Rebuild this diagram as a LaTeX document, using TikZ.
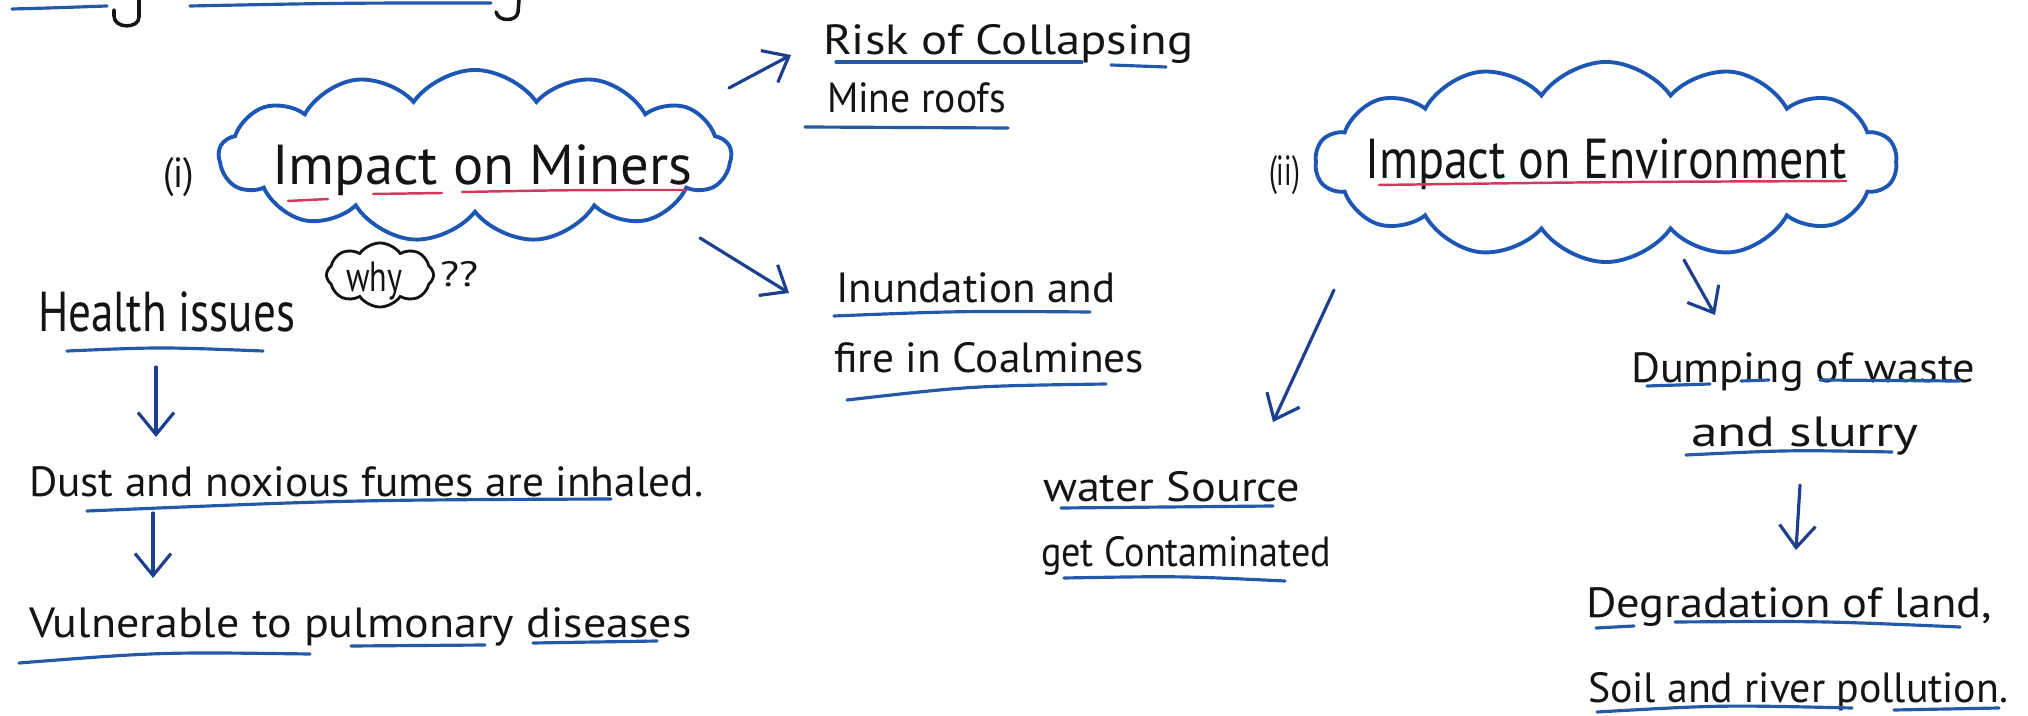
\documentclass[tikz,border=0pt]{standalone}
\usepackage{fontspec}
\setmainfont{PT Sans}
\usetikzlibrary{shapes.symbols,arrows.meta,calc}
\definecolor{ink}{HTML}{141414}
\definecolor{pen}{HTML}{2458A8}
\definecolor{arrc}{HTML}{1C3F8F}
\definecolor{cloudc}{HTML}{1E57B3}
\definecolor{redpen}{HTML}{D2395A}
\newcommand\fitw[2]{\resizebox{#1}{\height}{#2}}
\begin{document}
\begin{tikzpicture}[x=0.01cm,y=-0.01cm,
  txt/.style={anchor=base west,inner sep=0pt,outer sep=0pt,text=ink},
  big/.style={txt,font=\fontsize{16}{18}\selectfont},
  mid/.style={txt,font=\fontsize{12}{14}\selectfont},
  uline/.style={draw=pen,line width=0.9pt,line cap=round},
  rline/.style={draw=redpen,line width=0.7pt,line cap=round},
  cloudbox/.style={cloud,draw=cloudc,line width=1.1pt,cloud puff arc=110,inner sep=0pt},
  arr/.style={draw=arrc,line width=0.9pt,line cap=round,-{Straight Barb[length=2.2mm,width=3.6mm,line width=0.9pt]}},
]
\useasboundingbox[fill=white] (0,0) rectangle (2028,716);

% partial heading strokes at the top
\draw[uline] (12,9) .. controls (50,8) .. (107,6);
\draw[ink,line width=1pt,line cap=round] (139,0) -- (139,17) .. controls (139,29) and (114,29) .. (114,16) -- (114,10);
\draw[uline] (190,6) .. controls (340,3) .. (491,3);
\draw[ink,line width=1pt,line cap=round] (519,0) -- (518,12) .. controls (517,22) and (498,22) .. (496,12);

% clouds
\node[cloudbox,cloud puffs=13,minimum width=5.12cm,minimum height=1.72cm] (miners) at (475,156) {};
\node[cloudbox,cloud puffs=14,minimum width=5.81cm,minimum height=2.0cm] (env) at (1606,162) {};
\node[cloud,draw=ink,line width=0.8pt,cloud puffs=8,cloud puff arc=110,inner sep=0pt,minimum width=1.07cm,minimum height=0.64cm] (why) at (380,275) {};

% texts
\node[big] (tminers) at (272,185) {\fitw{4.20cm}{Impact on Miners}};
\node[mid] (n1) at (163,188) {\fitw{0.31cm}{(i)}};
\node[big] (tenv) at (1365,179) {\fitw{4.81cm}{Impact on Environment}};
\node[mid] (n2) at (1269,186) {\fitw{0.31cm}{(ii)}};
\node[txt,font=\fontsize{12}{13}\selectfont] (twhy) at (346,292) {\fitw{0.56cm}{why}};
\node[txt,font=\fontsize{10}{12}\selectfont] (qq) at (440,287) {\fitw{0.38cm}{??}};
\node[big] (health) at (38,332) {\fitw{2.57cm}{Health issues}};
\node[mid] (dust) at (29,497) {\fitw{6.74cm}{Dust and noxious fumes are inhaled.}};
\node[mid] (vuln) at (29,638) {\fitw{6.62cm}{Vulnerable to pulmonary diseases}};
\node[mid] (risk) at (823,55) {\fitw{3.70cm}{Risk of Collapsing}};
\node[mid] (roofs) at (827,113) {\fitw{1.79cm}{Mine roofs}};
\node[mid] (inund) at (836,303) {\fitw{2.79cm}{Inundation and}};
\node[mid] (fire) at (834,373) {\fitw{3.10cm}{fire in Coalmines}};
\node[mid] (water) at (1043,502) {\fitw{2.57cm}{water Source}};
\node[mid] (contam) at (1041,567) {\fitw{2.90cm}{get Contaminated}};
\node[mid] (dump) at (1631,383) {\fitw{3.44cm}{Dumping of waste}};
\node[mid] (slurry) at (1691,447) {\fitw{2.27cm}{and slurry}};
\node[mid] (degr) at (1586,618) {\fitw{4.06cm}{Degradation of land,}};
\node[mid] (soil) at (1588,702) {\fitw{4.20cm}{Soil and river pollution.}};

% red underlines
\draw[rline] (288,201) -- (328,199);
\draw[rline] (373,194) -- (442,193);
\draw[rline] (462,192) .. controls (570,190) .. (685,190);
\draw[rline] (1379,185) .. controls (1600,182) .. (1846,181);

% blue underlines
\draw[uline] (67,351) .. controls (160,347) .. (263,351);
\draw[uline] (87,511) .. controls (350,500) .. (611,499);
\draw[uline] (19,663) .. controls (160,652) .. (310,654);
\draw[uline] (351,646) -- (485,645);
\draw[uline] (533,643) -- (657,641);
\draw[uline] (836,62) -- (1082,62);
\draw[uline] (1111,65) -- (1166,67);
\draw[uline] (805,127) -- (1008,128);
\draw[uline] (834,316) .. controls (960,311) .. (1090,312);
\draw[uline] (847,400) .. controls (970,386) .. (1106,384);
\draw[uline] (1061,508) -- (1273,506);
\draw[uline] (1064,578) .. controls (1180,576) .. (1285,581);
\draw[uline] (1647,386) -- (1710,384);
\draw[uline] (1741,381) -- (1769,380);
\draw[uline] (1820,380) -- (1960,381);
\draw[uline] (1686,455) .. controls (1790,450) .. (1892,452);
\draw[uline] (1596,628) -- (1634,626);
\draw[uline] (1675,622) .. controls (1820,621) .. (1960,627);
\draw[uline] (1597,712) .. controls (1720,705) .. (1852,708);
\draw[uline] (1894,710) -- (1999,708);

% connectors
\draw[arr] ($(miners.center)+(254,-68)$) -- ($(risk.base west)+(-32,0)$);
\draw[arr] ($(miners.center)+(225,82)$) -- ($(inund.base west)+(-47,-10)$);
\draw[arr] ($(health.base west)+(118,35)$) -- ($(dust.base west)+(127,-60)$);
\draw[arr] ($(dust.base west)+(124,16)$) -- ($(vuln.base west)+(124,-60)$);
\draw[arr] ($(env.center)+(-272,128)$) -- ($(water.base west)+(230,-80)$);
\draw[arr] ($(env.center)+(78,98)$) -- ($(dump.base west)+(84,-68)$);
\draw[arr] ($(slurry.base west)+(109,38)$) -- ($(degr.base west)+(210,-68)$);
\end{tikzpicture}
\end{document}
